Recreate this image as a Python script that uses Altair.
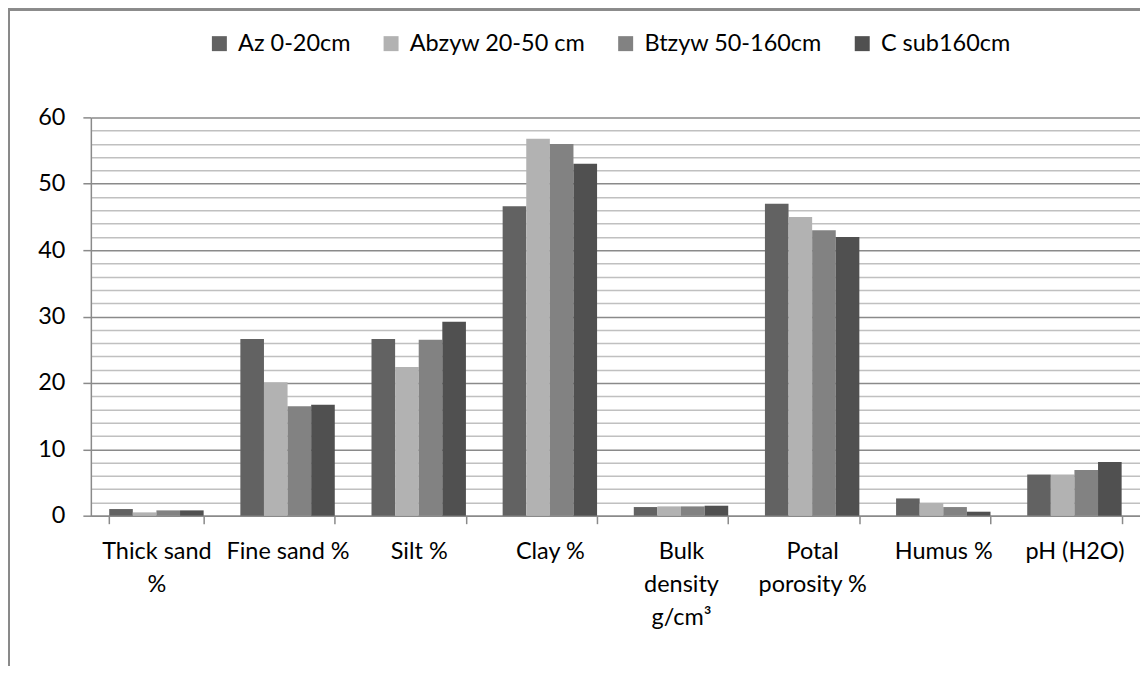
import altair as alt
import pandas as pd

categories = ["Thick sand|%", "Fine sand %", "Silt %", "Clay %",
              "Bulk|density|g/cm³", "Potal|porosity %", "Humus %", "pH (H2O)"]
series = ["Az 0-20cm", "Abzyw 20-50 cm", "Btzyw 50-160cm", "C sub160cm"]
az = [1.0, 26.6, 26.6, 46.6, 1.3, 47.0, 2.6, 6.2]
abzyw = [0.5, 20.1, 22.4, 56.8, 1.4, 45.0, 1.9, 6.2]
btzyw = [0.8, 16.5, 26.5, 56.0, 1.4, 43.0, 1.3, 6.9]
c_sub = [0.8, 16.7, 29.2, 53.0, 1.5, 42.0, 0.6, 8.1]
colors = ["#626262", "#b2b2b2", "#828282", "#505050"]
y_ticks = list(range(0, 61, 2))

rows = []
for s, vals in zip(series, [az, abzyw, btzyw, c_sub]):
    for cat, v in zip(categories, vals):
        rows.append({"category": cat, "series": s, "value": v})
df = pd.DataFrame(rows)

FONT = "Lato"
FS = 23.5
GRID_MAJOR = "#8a8a8a"
GRID_MINOR = "#c0c0c0"

bars = alt.Chart(df).mark_bar(stroke=None).encode(
    x=alt.X("category:N", sort=categories, title=None,
            scale=alt.Scale(paddingInner=0.28, paddingOuter=0.14),
            axis=alt.Axis(labelAngle=0, labelExpr="split(datum.label, '|')",
                          labelFont=FONT, labelFontSize=FS, labelColor="#000",
                          labelLineHeight=33, labelPadding=16, labelLimit=300,
                          tickBand="extent", tickSize=8, tickColor=GRID_MAJOR,
                          tickWidth=1.5, domainColor=GRID_MAJOR, domainWidth=1.5,
                          labelBaseline="top")),
    xOffset=alt.XOffset("series:N", sort=series, scale=alt.Scale(paddingInner=0, paddingOuter=0)),
    y=alt.Y("value:Q", title=None,
            scale=alt.Scale(domain=[0, 60], nice=False),
            axis=alt.Axis(values=y_ticks,
                          labelExpr="datum.value % 10 == 0 ? datum.label : ''",
                          labelFont=FONT, labelFontSize=FS, labelColor="#000",
                          labelPadding=18, tickSize=8, tickWidth=1.5,
                          tickColor=GRID_MAJOR,
                          tickOpacity=alt.condition("datum.value % 10 == 0", alt.value(1), alt.value(0)),
                          grid=True, gridWidth=1.5,
                          gridColor=alt.condition("datum.value % 10 == 0", alt.value(GRID_MAJOR), alt.value(GRID_MINOR)),
                          domainColor=GRID_MAJOR, domainWidth=1.5)),
    color=alt.Color("series:N", sort=series,
                    scale=alt.Scale(domain=series, range=colors),
                    legend=alt.Legend(title=None, orient="none", direction="horizontal",
                                      legendX=117, legendY=-86,
                                      symbolType="square", symbolSize=225,
                                      symbolStrokeWidth=0, labelFont=FONT,
                                      labelFontSize=23.5, labelColor="#000",
                                      labelLimit=400,
                                      columnPadding=28, labelOffset=7)),
)

frame_v = alt.Chart(df).mark_rule(color="#8a8a8a", strokeWidth=1.5, clip=False).encode(
    x=alt.value(-82), y=alt.value(-109), y2=alt.value(560))
frame_h = alt.Chart(df).mark_rule(color="#8a8a8a", strokeWidth=1.5, clip=False).encode(
    x=alt.value(-82), x2=alt.value(1080), y=alt.value(-108))

chart = alt.layer(bars, frame_v, frame_h).properties(
    width=1051, height=399,
    autosize=alt.AutoSizeParams(type="none"),
    padding={"left": 83, "top": 109, "right": 0, "bottom": 150},
).configure_view(stroke=None)

chart.save("out.html", embed_options={"renderer": "svg", "actions": False})
